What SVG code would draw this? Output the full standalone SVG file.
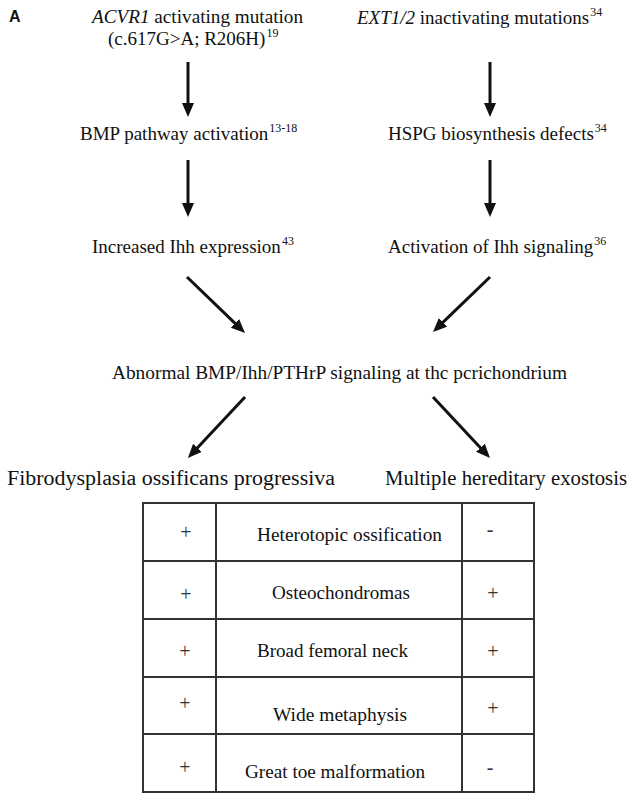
<svg xmlns="http://www.w3.org/2000/svg" width="629" height="800" viewBox="0 0 629 800">
<style>
text{font-family:"Liberation Serif","Times New Roman",serif;font-size:19px;fill:#111}
.big{font-size:20.5px}
.sup{font-size:12px}
.lbl{font-family:"Liberation Sans",Arial,sans-serif;font-weight:bold;font-size:16px}
.arr{stroke:#111;stroke-width:3;fill:none;marker-end:url(#ah)}
.grid{stroke:#333;stroke-width:2;fill:none}
.pm{font-size:20px;fill:#333;text-anchor:middle}
</style>
<defs>
<marker id="ah" viewBox="0 0 14 12" refX="2" refY="6" markerWidth="14" markerHeight="12" markerUnits="userSpaceOnUse" orient="auto">
<path d="M0,0 L14,6 L0,12 z" fill="#111"/>
</marker>
</defs>
<rect width="629" height="800" fill="#fff"/>
<text class="lbl" x="9" y="22">A</text>
<g id="n-acvr1">
<text x="92" y="23" textLength="211" lengthAdjust="spacingAndGlyphs"><tspan font-style="italic">ACVR1</tspan> activating mutation</text>
<text x="108" y="45" font-size="20">(c.617G&gt;A; R206H)<tspan class="sup" dx="1" dy="-8">19</tspan></text>
</g>
<g id="n-ext">
<text x="357" y="24" font-size="19.4"><tspan font-style="italic">EXT1/2</tspan> inactivating mutations<tspan class="sup" dx="1" dy="-8">34</tspan></text>
</g>
<g id="n-bmp">
<text x="80" y="140" font-size="18.7">BMP pathway activation<tspan class="sup" dx="1" dy="-8">13-18</tspan></text>
</g>
<g id="n-hspg">
<text x="388" y="140" font-size="18.2">HSPG biosynthesis defects<tspan class="sup" dx="1" dy="-8">34</tspan></text>
</g>
<g id="n-ihh">
<text x="92" y="253" font-size="19.1">Increased Ihh expression<tspan class="sup" dx="1" dy="-8">43</tspan></text>
</g>
<g id="n-act">
<text x="388" y="253" font-size="18.4">Activation of Ihh signaling<tspan class="sup" dx="1" dy="-8">36</tspan></text>
</g>
<g id="n-abn">
<text x="112" y="379" textLength="455" lengthAdjust="spacingAndGlyphs">Abnormal BMP/Ihh/PTHrP signaling at thc pcrichondrium</text>
</g>
<g id="n-fop">
<text class="big" x="7" y="485" textLength="328" lengthAdjust="spacingAndGlyphs">Fibrodysplasia ossificans progressiva</text>
</g>
<g id="n-mhe">
<text class="big" x="385" y="485" textLength="242" lengthAdjust="spacingAndGlyphs">Multiple hereditary exostosis</text>
</g>
<g id="connectors">
<line class="arr" x1="188" y1="62" x2="188" y2="105"/>
<line class="arr" x1="188" y1="160" x2="188" y2="205"/>
<line class="arr" x1="490" y1="62" x2="490" y2="105"/>
<line class="arr" x1="490" y1="160" x2="490" y2="205"/>
<line class="arr" x1="187" y1="277" x2="236.4" y2="324.7"/>
<line class="arr" x1="490" y1="277" x2="441.6" y2="323.7"/>
<line class="arr" x1="245" y1="397" x2="196.1" y2="449.3"/>
<line class="arr" x1="433" y1="397" x2="481.8" y2="449.2"/>
</g>
<g id="table">
<rect class="grid" x="143" y="503" width="391" height="289"/>
<line class="grid" x1="216" y1="503" x2="216" y2="792"/>
<line class="grid" x1="462" y1="503" x2="462" y2="792"/>
<line class="grid" x1="143" y1="561" x2="534" y2="561"/>
<line class="grid" x1="143" y1="619" x2="534" y2="619"/>
<line class="grid" x1="143" y1="677" x2="534" y2="677"/>
<line class="grid" x1="143" y1="734" x2="534" y2="734"/>
<g id="row1">
<text class="pm" x="186" y="539">+</text>
<text x="257" y="541" textLength="185" lengthAdjust="spacingAndGlyphs">Heterotopic ossification</text>
<text class="pm" x="490" y="536">-</text>
</g>
<g id="row2">
<text class="pm" x="186" y="601">+</text>
<text x="272" y="599" textLength="138" lengthAdjust="spacingAndGlyphs">Osteochondromas</text>
<text class="pm" x="493" y="600">+</text>
</g>
<g id="row3">
<text class="pm" x="185" y="658">+</text>
<text x="257" y="657" textLength="151" lengthAdjust="spacingAndGlyphs">Broad femoral neck</text>
<text class="pm" x="493" y="658">+</text>
</g>
<g id="row4">
<text class="pm" x="185" y="710">+</text>
<text x="273" y="721" textLength="134" lengthAdjust="spacingAndGlyphs">Wide metaphysis</text>
<text class="pm" x="493" y="715">+</text>
</g>
<g id="row5">
<text class="pm" x="185" y="774">+</text>
<text x="245" y="778" textLength="180" lengthAdjust="spacingAndGlyphs">Great toe malformation</text>
<text class="pm" x="490" y="774">-</text>
</g>
</g>
</svg>
